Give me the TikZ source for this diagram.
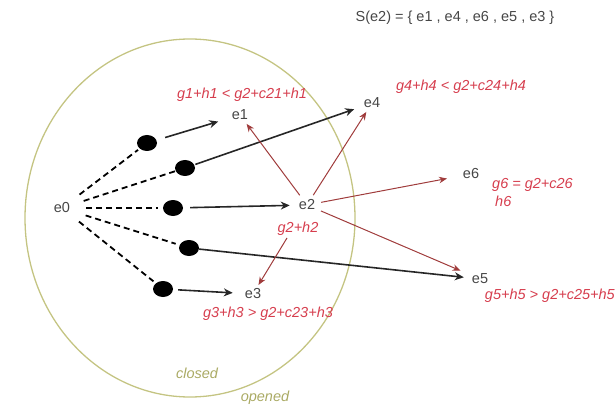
\documentclass[tikz,border=0pt]{standalone}
\usepackage{fontspec}
\setmainfont{Liberation Sans}
\usetikzlibrary{shapes.geometric,arrows.meta}
\definecolor{lblred}{RGB}{214,62,78}
\definecolor{arrred}{RGB}{160,60,60}
\definecolor{olive}{RGB}{196,196,130}
\definecolor{olivetxt}{RGB}{170,170,100}
\definecolor{egray}{RGB}{70,70,70}
\tikzset{
  every node/.style={font=\fontsize{14.5}{16}\selectfont},
  enode/.style={text=egray, inner sep=2pt},
  dotnode/.style={ellipse, fill=black, minimum width=20pt, minimum height=16pt, inner sep=0pt},
  redlbl/.style={text=lblred, font=\fontsize{14.5}{16}\selectfont\itshape, inner sep=0pt},
  setlbl/.style={text=egray, inner sep=0pt},
  dashline/.style={draw=black, line width=1.8pt, dash pattern=on 6pt off 4pt},
  blackarr/.style={draw=black!85, line width=1.6pt, -{Stealth[length=9pt,width=8pt]}},
  redarr/.style={draw=arrred, line width=1pt, -{Stealth[length=8pt,width=6.5pt]}},
  setellipse/.style={draw=olive, line width=1.3pt},
  olivelbl/.style={text=olivetxt, font=\fontsize{14.5}{16}\selectfont\itshape, inner sep=0pt}
}
\begin{document}
\begin{tikzpicture}[x=1pt,y=-1pt]
\useasboundingbox (0,0) rectangle (616,409);
% set ellipse
\node[setellipse, ellipse, minimum width=330pt, minimum height=358pt, inner sep=0pt] (closedset) at (190,218) {};
% nodes
\node[enode] (e0) at (62,208) {e0};
\node[enode] (e1) at (240,115) {e1};
\node[enode] (e2) at (307,205) {e2};
\node[enode] (e3) at (253,294) {e3};
\node[enode] (e4) at (372,103) {e4};
\node[enode] (e6) at (471,174) {e6};
\node[enode] (e5) at (480,279) {e5};
\node[dotnode] (d1) at (147,143) {};
\node[dotnode] (d2) at (185,168) {};
\node[dotnode] (d3) at (173,208) {};
\node[dotnode] (d4) at (189,248) {};
\node[dotnode] (d5) at (163,289) {};
% labels
\node[setlbl] (set) at (455,18) {S(e2) = \{ e1 , e4 , e6 , e5 , e3 \}};
\node[redlbl] (l1) at (242,95) {g1+h1 < g2+c21+h1};
\node[redlbl] (l4) at (461,87) {g4+h4 < g2+c24+h4};
\node[redlbl, anchor=west] (l6) at (492,185) {g6 = g2+c26};
\node[redlbl, anchor=west] (l6b) at (495,201) {h6};
\node[redlbl] (l2) at (298,229) {g2+h2};
\node[redlbl] (l3) at (268,314) {g3+h3 > g2+c23+h3};
\node[redlbl, anchor=east] (l5) at (615,296) {g5+h5 > g2+c25+h5};
\node[olivelbl] (lc) at (197,373) {closed};
\node[olivelbl] (lo) at (265,398) {opened};
% dashed connectors
\draw[dashline, shorten <=10pt, shorten >=2pt] (e0) -- (d1);
\draw[dashline, shorten <=12pt, shorten >=0pt] (e0) -- (d2);
\draw[dashline, shorten <=14pt, shorten >=5pt] (e0) -- (d3);
\draw[dashline, shorten <=14pt, shorten >=4pt] (e0) -- (d4);
\draw[dashline, shorten <=10pt, shorten >=3pt] (e0) -- (d5);
% black arrows
\draw[blackarr, shorten <=9pt, shorten >=12pt] (d1) -- (e1);
\draw[blackarr, shorten <=1pt, shorten >=8pt] (d2) -- (e4);
\draw[blackarr, shorten <=7pt, shorten >=7pt] (d3) -- (e2);
\draw[blackarr, shorten <=0pt, shorten >=6pt] (d4) -- (e5);
\draw[blackarr, shorten <=5pt, shorten >=10pt] (d5) -- (e3);
% red arrows
\draw[redarr, shorten <=3pt, shorten >=2pt] (e2) -- (e1);
\draw[redarr, shorten <=3pt, shorten >=2pt] (e2) -- (e4);
\draw[redarr, shorten <=4pt, shorten >=14pt] (e2) -- (e6);
\draw[redarr, shorten <=4pt, shorten >=10pt] (e2) -- (e5);
\draw[redarr, shorten <=30pt, shorten >=2pt] (e2) -- (e3);
\end{tikzpicture}
\end{document}
